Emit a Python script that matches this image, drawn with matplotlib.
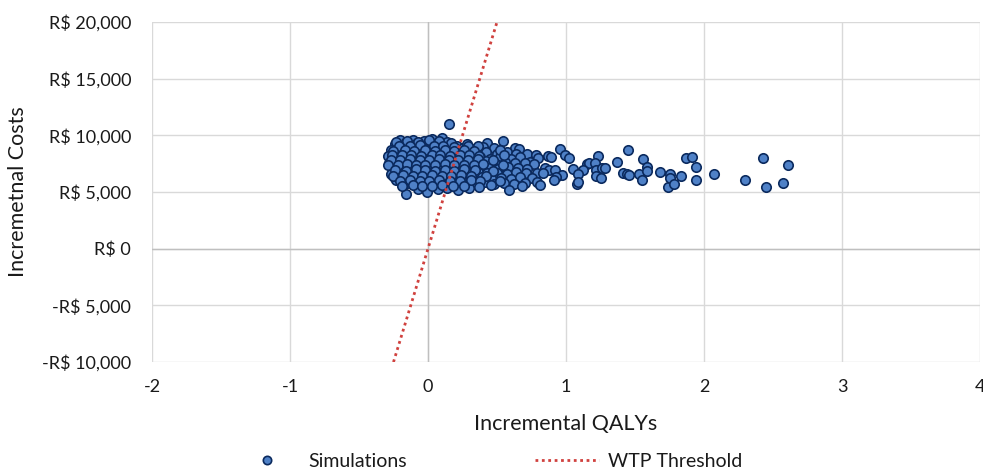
import matplotlib
matplotlib.use("Agg")
import matplotlib.pyplot as plt
from matplotlib.lines import Line2D

plt.rcParams['font.family'] = ['Lato', 'DejaVu Sans']

# ---- Data ----
# Main cloud, written row by row (qaly list and cost list aligned)
sim_qaly = [
    -0.20, -0.11, -0.03, 0.03, 0.10, 0.15,
    -0.24, -0.16, -0.08, 0.00, 0.07, 0.14, 0.21, 0.43, 0.54,
    -0.27, -0.19, -0.12, -0.05, 0.02, 0.09, 0.17, 0.25, 0.32, 0.40, 0.48, 0.63, 0.66,
    -0.29, -0.22, -0.15, -0.08, -0.01, 0.06, 0.13, 0.20, 0.27, 0.35, 0.42, 0.50, 0.57, 0.64, 0.72, 0.78, 0.96,
    -0.25, -0.18, -0.11, -0.04, 0.03, 0.10, 0.17, 0.24, 0.31, 0.38, 0.45, 0.52, 0.60, 0.67, 0.74, 0.80, 0.87, 0.89, 0.99, 1.02, 1.23,
    -0.28, -0.21, -0.14, -0.07, 0.00, 0.07, 0.14, 0.21, 0.28, 0.35, 0.42, 0.49, 0.56, 0.63, 0.70, 0.77, 1.15, 1.17, 1.21, 1.37,
    -0.26, -0.19, -0.12, -0.05, 0.02, 0.09, 0.16, 0.23, 0.30, 0.37, 0.44, 0.51, 0.58, 0.65, 0.72, 0.85, 0.88, 0.92, 1.05, 1.12, 1.22, 1.26, 1.28,
    -0.27, -0.20, -0.13, -0.06, 0.01, 0.08, 0.15, 0.22, 0.29, 0.36, 0.43, 0.50, 0.57, 0.64, 0.71, 0.79, 0.83, 0.97, 1.09, 1.41, 1.44, 1.46, 1.53,
    -0.24, -0.17, -0.10, -0.03, 0.04, 0.11, 0.18, 0.25, 0.32, 0.39, 0.46, 0.53, 0.60, 0.67, 0.75, 0.93, 1.22, 1.25,
    -0.23, -0.15, -0.08, -0.01, 0.06, 0.13, 0.20, 0.27, 0.34, 0.41, 0.48, 0.55, 0.62, 0.70, 0.79, 0.81, 0.91, 1.08, 1.09,
    -0.16, -0.07, -0.01, 0.07, 0.14, 0.22, 0.30, 0.46, 0.59, 0.68,
]
sim_cost = [
    9600, 9550, 9500, 9700, 9790, 11000,
    9200, 9400, 9350, 9300, 9250, 9400, 9100, 9350, 9500,
    8750, 8950, 8850, 9000, 8900, 8950, 8850, 8900, 8800, 8950, 8850, 8900, 8800,
    8200, 8500, 8400, 8550, 8450, 8500, 8400, 8550, 8450, 8350, 8500, 8400, 8550, 8350, 8380, 8290, 8800,
    8000, 8100, 7950, 8100, 8000, 8050, 7950, 8100, 8000, 8050, 7900, 8100, 7950, 8050, 7670, 8030, 8200, 8110, 8290, 8030, 8200,
    7600, 7700, 7550, 7650, 7600, 7700, 7500, 7650, 7600, 7550, 7700, 7500, 7650, 7550, 7600, 7500, 7500, 7590, 7590, 7670,
    7200, 7100, 7250, 7150, 7200, 7050, 7200, 7100, 7250, 7100, 7150, 7050, 7200, 7100, 7000, 7140, 6970, 6970, 7060, 6970, 6970, 7140, 7140,
    6620, 6750, 6650, 6800, 6700, 6650, 6750, 6600, 6700, 6800, 6650, 6700, 6600, 6750, 6650, 6700, 6700, 6530, 6620, 6700, 6600, 6530, 6600,
    6200, 6300, 6150, 6300, 6250, 6200, 6300, 6150, 6250, 6300, 6200, 6250, 6150, 6300, 6260, 6350, 6440, 6260,
    6080, 5800, 5750, 5850, 5700, 5850, 5750, 5800, 5700, 5850, 5750, 5800, 5700, 5820, 5910, 5640, 6080, 5730, 5910,
    4850, 5300, 5030, 5250, 5350, 5200, 5380, 5640, 5200, 5560,
]
# Extra points filling the dense core of the cloud
core_qaly = [
    -0.23, -0.15, -0.07, 0.01, 0.08, 0.17, 0.28,
    -0.21, -0.13, -0.06, 0.04, 0.11, 0.19, 0.29, 0.36,
    -0.25, -0.17, -0.10, -0.02, 0.05, 0.12, 0.19, 0.26, 0.33, 0.52,
    -0.26, -0.19, -0.12, -0.05, 0.03, 0.09, 0.16, 0.23, 0.30, 0.37, 0.55,
    -0.27, -0.20, -0.13, -0.06, 0.01, 0.08, 0.15, 0.22, 0.29, 0.36, 0.47,
    -0.29, -0.22, -0.15, -0.09, -0.02, 0.05, 0.12, 0.19, 0.26, 0.33, 0.40, 0.54,
    -0.24, -0.16, -0.09, -0.02, 0.05, 0.12, 0.19, 0.26, 0.34, 0.47,
    -0.25, -0.18, -0.11, -0.04, 0.03, 0.10, 0.17, 0.24, 0.31, 0.42,
    -0.20, -0.13, -0.06, 0.01, 0.08, 0.16, 0.23, 0.31, 0.38, 0.52,
    -0.19, -0.11, -0.04, 0.03, 0.10, 0.18, 0.26, 0.37,
]
core_cost = [
    9450, 9500, 9450, 9600, 9500, 9350, 9200,
    9100, 9050, 9150, 9050, 9100, 9000, 9050, 9100,
    8600, 8700, 8650, 8700, 8650, 8750, 8600, 8700, 8650, 8700,
    8300, 8250, 8300, 8200, 8250, 8300, 8200, 8250, 8300, 8200, 8250,
    7850, 7800, 7900, 7850, 7800, 7900, 7850, 7800, 7850, 7900, 7800,
    7400, 7350, 7450, 7400, 7350, 7400, 7450, 7350, 7400, 7350, 7450, 7400,
    6950, 6900, 7000, 6950, 6900, 6950, 6900, 7000, 6950, 6900,
    6450, 6500, 6450, 6400, 6500, 6450, 6400, 6500, 6450, 6400,
    6000, 6050, 5950, 6000, 6050, 5950, 6000, 6050, 5950, 6000,
    5550, 5600, 5500, 5550, 5600, 5500, 5550, 5450,
]
# Sparse right tail
tail_qaly = [1.45, 1.55, 1.56, 1.59, 1.59, 1.68, 1.74, 1.75, 1.75, 1.78, 1.83,
             1.87, 1.91, 1.94, 1.94, 2.07, 2.30, 2.43, 2.45, 2.57, 2.61]
tail_cost = [8730, 6080, 7940, 7230, 6880, 6790, 5470, 6600, 6260, 5730, 6440,
             8030, 8110, 7230, 6080, 6620, 6080, 8030, 5470, 5820, 7410]

# WTP threshold line (R$ 40,000 per QALY)
wtp_qaly = [-0.25, 0.5]
wtp_cost = [-10000, 20000]

x_ticks = [-2, -1, 0, 1, 2, 3, 4]
y_ticks = [-10000, -5000, 0, 5000, 10000, 15000, 20000]
y_labels = ['-R$ 10,000', '-R$ 5,000', 'R$ 0', 'R$ 5,000', 'R$ 10,000', 'R$ 15,000', 'R$ 20,000']

# ---- Figure ----
fig = plt.figure(figsize=(9.83, 4.69), dpi=100)
ax = fig.add_axes([0.1546, 0.228, 0.8424, 0.725])

txt = '#1A1A1A'
face = '#4F81C7'
edge = '#0B2A5E'

ax.scatter(sim_qaly + core_qaly + tail_qaly, sim_cost + core_cost + tail_cost,
           s=46, facecolor=face, edgecolor=edge, linewidth=1.2, zorder=3)
ax.plot(wtp_qaly, wtp_cost, linestyle=(0, (1, 1.3)), color='#D0413E',
        linewidth=2.0, zorder=4)

ax.set_xlim(-2, 4)
ax.set_ylim(-10000, 20000)
ax.set_xticks(x_ticks)
ax.set_xticklabels([str(t) for t in x_ticks])
ax.set_yticks(y_ticks)
ax.set_yticklabels(y_labels)
ax.tick_params(length=0, labelsize=13, colors=txt)
ax.tick_params(axis='y', pad=15)
ax.tick_params(axis='x', pad=12)

for s in ax.spines.values():
    s.set_visible(False)
ax.grid(True, color='#D9D9D9', linewidth=1.0, zorder=0)
ax.axhline(0, color='#BFBFBF', linewidth=1.0, zorder=1)
ax.axvline(0, color='#BFBFBF', linewidth=1.0, zorder=1)
ax.set_axisbelow(True)

ax.set_xlabel('Incremental QALYs', fontsize=15.5, color=txt, labelpad=14)
ax.set_ylabel('Incremetnal Costs', fontsize=15.5, color=txt, labelpad=10)

handles = [
    Line2D([], [], linestyle='none', marker='o', markersize=6,
           markerfacecolor=face, markeredgecolor=edge, markeredgewidth=1.2),
    Line2D([], [], linestyle=(0, (1, 1.3)), color='#D0413E', linewidth=2.0),
]
fig.legend(handles, ['Simulations', 'WTP Threshold'], loc='center',
           bbox_to_anchor=(0.497, 0.017), ncol=2, frameon=False, fontsize=14,
           columnspacing=6.6, handlelength=3.3, handletextpad=0.45,
           labelcolor=txt)

fig.savefig('out.png', dpi=100)
